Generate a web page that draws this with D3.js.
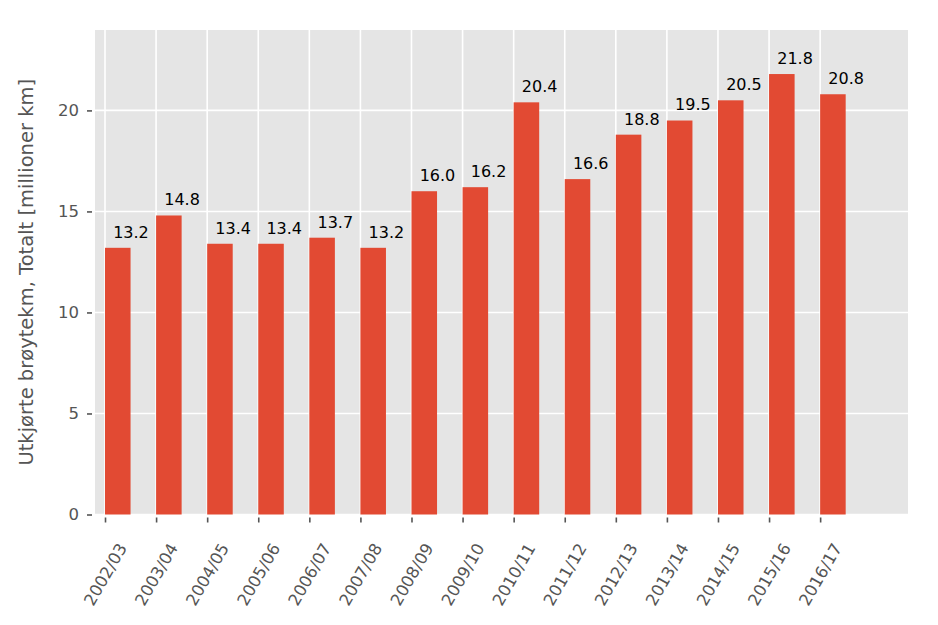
<!DOCTYPE html>
<html><head><meta charset="utf-8">
<script src="https://cdn.jsdelivr.net/npm/d3@7"></script>
<style>body{margin:0;background:#fff}svg{display:block}text{font-family:"DejaVu Sans",sans-serif}</style>
</head><body>
<svg id="c" width="938" height="625"></svg>
<script>
const categories = ["2002/03","2003/04","2004/05","2005/06","2006/07","2007/08","2008/09","2009/10","2010/11","2011/12","2012/13","2013/14","2014/15","2015/16","2016/17"];
const values = [13.2,14.8,13.4,13.4,13.7,13.2,16.0,16.2,20.4,16.6,18.8,19.5,20.5,21.8,20.8];
const yTicks = [0,5,10,15,20];
const yLabel = "Utkjørte brøytekm, Totalt [millioner km]";

const svg = d3.select("#c");
const L = 95, R = 908, T = 30, B = 514.5;
const x = d3.scaleLinear().domain([-0.196, 15.72]).range([L, R]);
const y = d3.scaleLinear().domain([0, 23.98]).range([B, T]);
const barW = 0.5;

svg.append("rect").attr("x", L).attr("y", T).attr("width", R-L).attr("height", B-T).attr("fill", "#E5E5E5");

// grid
svg.append("g").selectAll("line").data(yTicks).join("line")
  .attr("x1", L).attr("x2", R).attr("y1", d=>y(d)).attr("y2", d=>y(d))
  .attr("stroke", "#fff").attr("stroke-width", 1.6);
svg.append("g").selectAll("line").data(categories).join("line")
  .attr("x1", (d,i)=>x(i)).attr("x2", (d,i)=>x(i)).attr("y1", T).attr("y2", B)
  .attr("stroke", "#fff").attr("stroke-width", 1.6);

// bars
svg.append("g").selectAll("rect").data(values).join("rect")
  .attr("x", (d,i)=>x(i)).attr("width", x(barW)-x(0))
  .attr("y", d=>y(d)).attr("height", d=>B-y(d))
  .attr("fill", "#E24A33");

// bar labels
svg.append("g").selectAll("text").data(values).join("text")
  .attr("x", (d,i)=>x(i+0.16)).attr("y", d=>y(d+0.5))
  .attr("font-size", 16).attr("fill", "#000")
  .text(d=>d.toFixed(1));

// y axis
const ya = svg.append("g").attr("transform", `translate(${L},0)`)
  .call(d3.axisLeft(y).tickValues(yTicks).tickSize(5).tickPadding(8));
ya.select(".domain").remove();
ya.selectAll("line").attr("stroke", "#555").attr("stroke-width", 1.6).attr("transform","translate(-3,0)");
ya.selectAll("text").attr("font-size", 16.5).attr("fill", "#555").attr("font-family", "DejaVu Sans").attr("dx", -3);

// x axis
const xa = svg.append("g").attr("transform", `translate(0,${B})`)
  .call(d3.axisBottom(x).tickValues(d3.range(categories.length)).tickFormat(i=>categories[i]).tickSize(5).tickPadding(6));
xa.select(".domain").remove();
xa.selectAll("line").attr("stroke", "#555").attr("stroke-width", 1.6).attr("transform","translate(0,3)");
xa.selectAll("text").attr("font-size", 16.5).attr("fill", "#555").attr("font-family", "DejaVu Sans")
  .attr("text-anchor", "middle").attr("dy", null).attr("y", 0).attr("dominant-baseline", "central")
  .attr("transform", "translate(0,60) rotate(-60)");

svg.append("text").attr("transform", `translate(33,${(T+B)/2}) rotate(-90)`)
  .attr("text-anchor", "middle").attr("font-size", 19.5).attr("fill", "#555").text(yLabel);
</script>
</body></html>
